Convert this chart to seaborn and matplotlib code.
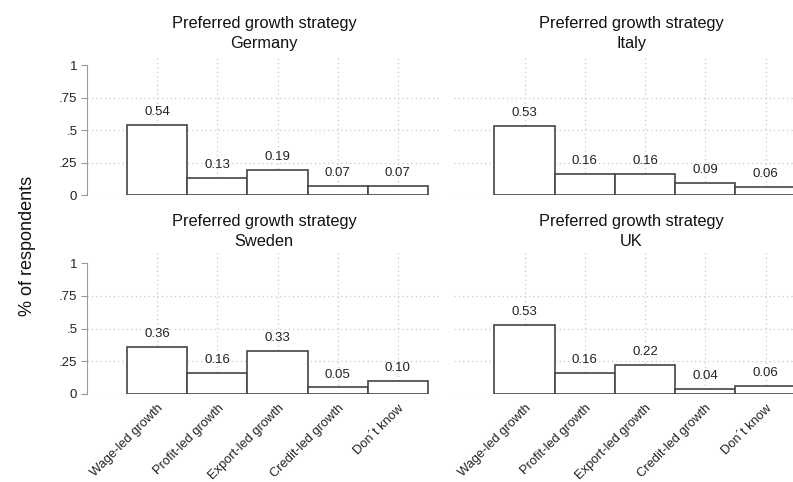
import pandas as pd
import matplotlib.pyplot as plt
import seaborn as sns

# Datos
strategies = ["Wage-led growth", "Profit-led growth", "Export-led growth",
              "Credit-led growth", "Don´t know"]
countries = ["Germany", "Italy", "Sweden", "UK"]
germany = [0.54, 0.13, 0.19, 0.07, 0.07]
italy = [0.53, 0.16, 0.16, 0.09, 0.06]
sweden = [0.36, 0.16, 0.33, 0.05, 0.10]
uk = [0.53, 0.16, 0.22, 0.04, 0.06]
yticks = [0, 0.25, 0.5, 0.75, 1]
yticklabels = ["0", ".25", ".5", ".75", "1"]

df = pd.DataFrame({
    "country": [c for c in countries for _ in strategies],
    "strategy": strategies * 4,
    "share": germany + italy + sweden + uk,
})

sns.set_style("white")
plt.rcParams["font.family"] = ["Liberation Sans", "DejaVu Sans"]

W, H = 793, 482
fig = plt.figure(figsize=(W / 100, H / 100), dpi=100)

# posiciones de los paneles en píxeles (izq, der, arriba, abajo)
boxes = {
    "Germany": (87, 441, 55, 195),
    "Italy": (454, 809, 55, 195),
    "Sweden": (87, 441, 253, 394),
    "UK": (454, 809, 253, 394),
}

edge = "#444444"
grid = "#c8c8c8"

for i, country in enumerate(countries):
    l, r, t, b = boxes[country]
    ax = fig.add_axes([l / W, 1 - b / H, (r - l) / W, (b - t) / H])
    sub = df[df["country"] == country]
    sns.barplot(data=sub, x="strategy", y="share", order=strategies,
                color="white", saturation=1, edgecolor=edge, linewidth=1.2,
                width=1.0, ax=ax, zorder=3)
    ax.bar_label(ax.containers[0], fmt="%.2f", padding=5, fontsize=9.5,
                 color="#222222")
    ax.set_xlim(-1.17, 4.72)
    ax.set_ylim(0, 1.077)

    # rejilla punteada
    for k in range(len(strategies)):
        ax.axvline(k, color=grid, lw=0.9, ls=(0, (1, 2.5)), zorder=1)
    for yv in yticks[:-1]:
        ax.axhline(yv, color=grid, lw=0.9, ls=(0, (1, 2.5)), zorder=1)

    for s in ["top", "right", "bottom"]:
        ax.spines[s].set_visible(False)
    ax.set_xlabel("")
    ax.set_ylabel("")
    ax.set_title("Preferred growth strategy\n" + country, fontsize=11.8,
                 pad=5, linespacing=1.45, color="#111111")

    if i % 2 == 0:
        ax.spines["left"].set_color("#9a9a9a")
        ax.spines["left"].set_bounds(0, 1)
        ax.set_yticks(yticks)
        ax.set_yticklabels(yticklabels, fontsize=9.5, color="#222222")
        ax.tick_params(axis="y", length=4, color="#9a9a9a", pad=3, left=True)
    else:
        ax.spines["left"].set_visible(False)
        ax.set_yticks([])

    if i >= 2:
        ax.set_xticks(range(len(strategies)))
        ax.set_xticklabels(strategies, rotation=45, ha="right",
                           rotation_mode="anchor", fontsize=9.3,
                           color="#222222")
        ax.tick_params(axis="x", length=0, pad=6)
    else:
        ax.set_xticks([])

fig.text(28 / W, 1 - 246 / H, "% of respondents", rotation=90,
         ha="center", va="center", fontsize=13, color="#111111")

fig.savefig("out.png", dpi=100)
